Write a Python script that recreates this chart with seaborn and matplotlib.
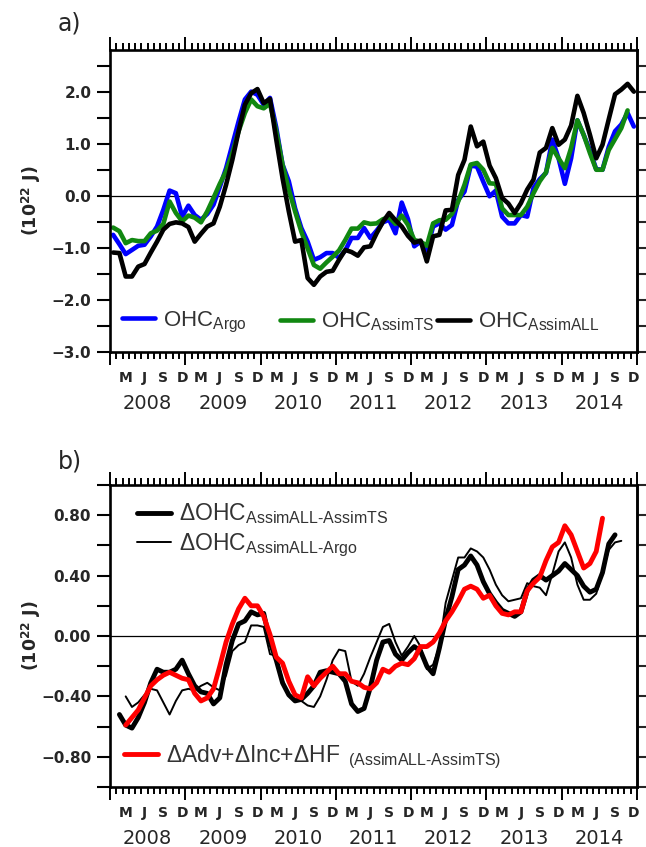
import numpy as np
import pandas as pd
import matplotlib
matplotlib.use("Agg")
import matplotlib.pyplot as plt
import seaborn as sns
from matplotlib.ticker import MultipleLocator, FuncFormatter, NullFormatter
from matplotlib.legend import Legend

# ---------------- data (monthly, Jan 2008 .. Dec 2014), units 1e22 J ----------------
start_year = 2008

ohc_argo = [-0.75, -0.93, -1.12, -1.04, -0.96, -0.94, -0.78, -0.59, -0.27, 0.10, 0.05, -0.40,
            -0.19, -0.37, -0.46, -0.35, -0.17, 0.17, 0.53, 0.98, 1.43, 1.85, 2.00, 1.94,
            1.75, 1.88, 1.31, 0.60, 0.28, -0.24, -0.62, -0.88, -1.23, -1.18, -1.10, -1.10,
            -1.19, -1.05, -0.81, -0.81, -0.62, -0.81, -0.67, -0.51, -0.46, -0.72, -0.13, -0.45,
            -0.97, -0.88, -1.05, -0.59, -0.53, -0.65, -0.56, -0.08, 0.08, 0.58, 0.56, 0.27,
            -0.01, 0.10, -0.40, -0.53, -0.53, -0.37, -0.40, 0.15, 0.32, 0.44, 1.08, 0.72,
            0.23, 0.72, 1.45, 1.17, 0.87, 0.51, 0.50, 0.94, 1.24, 1.37, 1.59, 1.33]

ohc_assimts = [-0.61, -0.68, -0.91, -0.85, -0.87, -0.87, -0.72, -0.67, -0.54, -0.11, -0.33, -0.49,
               -0.38, -0.42, -0.51, -0.30, -0.04, 0.23, 0.47, 0.82, 1.24, 1.59, 1.85, 1.72,
               1.68, 1.77, 1.24, 0.60, 0.12, -0.30, -0.69, -1.01, -1.33, -1.40, -1.28, -1.17,
               -1.05, -0.85, -0.63, -0.63, -0.51, -0.54, -0.53, -0.45, -0.41, -0.54, -0.38, -0.56,
               -0.85, -0.88, -0.96, -0.53, -0.47, -0.46, -0.35, -0.11, 0.21, 0.60, 0.63, 0.50,
               0.24, 0.23, -0.24, -0.37, -0.37, -0.37, -0.21, 0.05, 0.28, 0.45, 0.92, 0.72,
               0.53, 0.92, 1.45, 1.17, 0.82, 0.50, 0.50, 0.88, 1.09, 1.30, 1.64]

ohc_assimall = [-1.09, -1.10, -1.55, -1.55, -1.36, -1.31, -1.09, -0.88, -0.65, -0.54, -0.51, -0.53,
                -0.60, -0.88, -0.73, -0.59, -0.53, -0.21, 0.21, 0.69, 1.24, 1.75, 1.97, 2.05,
                1.78, 1.86, 1.08, 0.34, -0.30, -0.88, -0.85, -1.58, -1.71, -1.55, -1.46, -1.44,
                -1.23, -1.04, -1.08, -1.15, -0.99, -0.97, -0.72, -0.50, -0.33, -0.47, -0.59, -0.77,
                -0.90, -0.86, -1.26, -0.78, -0.75, -0.28, -0.27, 0.40, 0.69, 1.33, 0.95, 1.04,
                0.58, 0.34, -0.04, -0.15, -0.33, -0.14, 0.12, 0.31, 0.83, 0.92, 1.30, 0.98,
                1.08, 1.35, 1.92, 1.59, 1.17, 0.72, 0.98, 1.47, 1.95, 2.04, 2.15, 2.00]

# panel b: differences (first month index given separately)
d_all_ts_start = 1
d_all_ts = [-0.52, -0.59, -0.61, -0.54, -0.44, -0.31, -0.22, -0.24, -0.24, -0.22,
            -0.16, -0.25, -0.33, -0.37, -0.38, -0.45, -0.41, -0.19, -0.03, 0.08,
            0.10, 0.16, 0.14, 0.15, -0.04, -0.16, -0.31, -0.39, -0.43, -0.42,
            -0.38, -0.33, -0.24, -0.23, -0.24, -0.25, -0.30, -0.45, -0.50, -0.48,
            -0.34, -0.16, -0.04, -0.03, -0.12, -0.16, -0.11, -0.07, -0.10, -0.20,
            -0.25, -0.08, 0.11, 0.26, 0.44, 0.47, 0.53, 0.47, 0.36, 0.28,
            0.22, 0.17, 0.15, 0.13, 0.16, 0.30, 0.37, 0.40, 0.37, 0.40,
            0.43, 0.48, 0.44, 0.40, 0.33, 0.29, 0.31, 0.42, 0.61, 0.67]

d_all_argo_start = 2
d_all_argo = [-0.40, -0.47, -0.44, -0.39, -0.35, -0.36, -0.44, -0.52, -0.43, -0.36,
              -0.35, -0.36, -0.33, -0.31, -0.34, -0.36, -0.26, -0.10, -0.06, -0.04,
              0.07, 0.07, 0.06, -0.12, -0.13, -0.29, -0.39, -0.42, -0.43, -0.46,
              -0.47, -0.40, -0.29, -0.16, -0.09, -0.10, -0.30, -0.33, -0.25, -0.14,
              -0.04, 0.06, 0.08, -0.04, -0.13, -0.07, 0.00, -0.07, -0.22, -0.19,
              -0.07, 0.22, 0.37, 0.52, 0.52, 0.58, 0.56, 0.52, 0.44, 0.34,
              0.27, 0.23, 0.24, 0.25, 0.35, 0.33, 0.32, 0.27, 0.41, 0.56,
              0.62, 0.52, 0.34, 0.24, 0.24, 0.28, 0.42, 0.57, 0.62, 0.63]

d_budget_start = 2
d_budget = [-0.59, -0.54, -0.49, -0.41, -0.33, -0.29, -0.26, -0.24, -0.26, -0.28,
            -0.29, -0.38, -0.43, -0.41, -0.35, -0.20, -0.04, 0.08, 0.18, 0.25,
            0.20, 0.20, 0.13, 0.01, -0.14, -0.18, -0.30, -0.39, -0.41, -0.27,
            -0.33, -0.28, -0.24, -0.20, -0.25, -0.25, -0.30, -0.31, -0.34, -0.35,
            -0.31, -0.22, -0.24, -0.20, -0.18, -0.19, -0.15, -0.07, -0.07, -0.04,
            0.02, 0.10, 0.16, 0.23, 0.31, 0.33, 0.31, 0.25, 0.27, 0.20,
            0.15, 0.14, 0.16, 0.16, 0.30, 0.35, 0.39, 0.50, 0.59, 0.62,
            0.73, 0.67, 0.56, 0.45, 0.48, 0.56, 0.78]

month_letters = ["M", "J", "S", "D"]
month_label_idx = [2, 5, 8, 11]          # Mar, Jun, Sep, Dec
years = list(range(2008, 2015))

lab_argo = "OHC$_{\\mathrm{Argo}}$"
lab_ts = "OHC$_{\\mathrm{AssimTS}}$"
lab_all = "OHC$_{\\mathrm{AssimALL}}$"
lab_d_ts = "\u0394OHC$_{\\mathrm{AssimALL\u2010AssimTS}}$"
lab_d_argo = "\u0394OHC$_{\\mathrm{AssimALL\u2010Argo}}$"
lab_budget = "\u0394Adv+\u0394Inc+\u0394HF$_{\\mathrm{\\ \\ (AssimALL\u2010AssimTS)}}$"
ylabel_text = "(10$^{\\mathbf{22}}$ J)"


def month_x(start, n):
    k = np.arange(start, start + n)
    return start_year + (k + 0.5) / 12.0


# ---------------- style ----------------
sns.set_style("ticks")
plt.rcParams["font.family"] = ["DejaVu Sans"]
plt.rcParams["mathtext.fontset"] = "custom"
plt.rcParams["mathtext.rm"] = "Liberation Sans"
plt.rcParams["mathtext.it"] = "Liberation Sans:italic"
plt.rcParams["mathtext.bf"] = "DejaVu Sans:bold"

W, H = 646, 847
fig = plt.figure(figsize=(W / 100, H / 100), dpi=100)
ax_a = fig.add_axes([110 / W, 1 - 352 / H, 527 / W, 302 / H])
ax_b = fig.add_axes([110 / W, 1 - 787 / H, 527 / W, 302 / H])

TXT = "#333333"


def style_axes(ax, ylim, major, minor, fmt):
    ax.set_xlim(2008, 2015)
    ax.set_ylim(*ylim)
    for s in ax.spines.values():
        s.set_linewidth(1.9)
        s.set_color("black")
        s.set_visible(True)
    ax.xaxis.set_major_locator(MultipleLocator(1))
    ax.xaxis.set_minor_locator(MultipleLocator(1 / 12))
    ax.xaxis.set_major_formatter(NullFormatter())
    ax.tick_params(axis="x", which="both", direction="out", top=True, bottom=True,
                   labelbottom=False, labeltop=False, width=1.4, color="black")
    ax.tick_params(axis="x", which="major", length=9.5)
    ax.tick_params(axis="x", which="minor", length=5.3)

    ax.yaxis.set_major_locator(MultipleLocator(major))
    ax.yaxis.set_minor_locator(MultipleLocator(minor))
    ax.yaxis.set_major_formatter(FuncFormatter(
        lambda v, _: (fmt % (0.0 if abs(v) < 1e-9 else v)).replace("-", "\u2212")))
    ax.tick_params(axis="y", which="both", direction="out", left=True, right=False,
                   length=9.5, width=1.5, pad=4, labelsize=11, color="black")
    for t in ax.get_yticklabels():
        t.set_fontweight("bold")

    # right-hand ticks (shorter, no labels)
    sec_r = ax.secondary_yaxis("right")
    sec_r.yaxis.set_major_locator(MultipleLocator(major))
    sec_r.yaxis.set_minor_locator(MultipleLocator(minor))
    sec_r.tick_params(axis="y", which="both", direction="out", length=6.5, width=1.5,
                      labelright=False)
    sec_r.spines["right"].set_linewidth(1.9)

    # month letter labels
    sec_m = ax.secondary_xaxis("bottom")
    pos, labs = [], []
    for y in years:
        for m, l in zip(month_label_idx, month_letters):
            pos.append(y + (m + 0.5) / 12)
            labs.append(l)
    sec_m.set_xticks(pos)
    sec_m.set_xticklabels(labs, fontsize=10, fontweight="bold")
    sec_m.tick_params(axis="x", length=0, pad=14)
    sec_m.spines["bottom"].set_visible(False)

    # year labels
    sec_y = ax.secondary_xaxis("bottom")
    sec_y.set_xticks([y + 0.5 for y in years])
    sec_y.set_xticklabels([str(y) for y in years], fontsize=14)
    sec_y.tick_params(axis="x", length=0, pad=30)
    sec_y.spines["bottom"].set_visible(False)

    ax.set_ylabel(ylabel_text, fontsize=12.5, fontweight="bold")
    ax.yaxis.set_label_coords(-0.127, 0.5)
    ax.axhline(0, color="black", lw=0.9, zorder=1)


def add_leg(ax, line, label, fx, fy, size):
    lg = Legend(ax, [line], [label], loc="center left", bbox_to_anchor=(fx, fy),
                bbox_transform=ax.transAxes, frameon=False, borderpad=0, borderaxespad=0,
                handlelength=1.5, handletextpad=0.33,
                prop={"family": "Liberation Sans", "size": size})
    for t in lg.get_texts():
        t.set_color(TXT)
    ax.add_artist(lg)


# ---------------- panel a ----------------
df_a = pd.DataFrame({"x": month_x(0, len(ohc_argo)), "v": ohc_argo})
sns.lineplot(data=df_a, x="x", y="v", ax=ax_a, color="#0000ff", linewidth=3.3, errorbar=None)
l_argo = ax_a.lines[-1]
df_t = pd.DataFrame({"x": month_x(0, len(ohc_assimts)), "v": ohc_assimts})
sns.lineplot(data=df_t, x="x", y="v", ax=ax_a, color="#118811", linewidth=3.3, errorbar=None)
l_ts = ax_a.lines[-1]
df_l = pd.DataFrame({"x": month_x(0, len(ohc_assimall)), "v": ohc_assimall})
sns.lineplot(data=df_l, x="x", y="v", ax=ax_a, color="black", linewidth=3.3, errorbar=None)
l_all = ax_a.lines[-1]
style_axes(ax_a, (-3.0, 2.8), 1.0, 0.5, "%.1f")
ax_a.set_xlabel("")

add_leg(ax_a, l_argo, lab_argo, 0.0228, 0.099, 16)
add_leg(ax_a, l_ts, lab_ts, 0.3226, 0.099, 16)
add_leg(ax_a, l_all, lab_all, 0.6205, 0.099, 16)

# ---------------- panel b ----------------
df_b2 = pd.DataFrame({"x": month_x(d_all_argo_start, len(d_all_argo)), "v": d_all_argo})
sns.lineplot(data=df_b2, x="x", y="v", ax=ax_b, color="black", linewidth=1.4, errorbar=None)
l_d_argo = ax_b.lines[-1]
df_b1 = pd.DataFrame({"x": month_x(d_all_ts_start, len(d_all_ts)), "v": d_all_ts})
sns.lineplot(data=df_b1, x="x", y="v", ax=ax_b, color="black", linewidth=3.5, errorbar=None)
l_d_ts = ax_b.lines[-1]
df_b3 = pd.DataFrame({"x": month_x(d_budget_start, len(d_budget)), "v": d_budget})
sns.lineplot(data=df_b3, x="x", y="v", ax=ax_b, color="#ff0000", linewidth=3.5, errorbar=None)
l_budget = ax_b.lines[-1]
style_axes(ax_b, (-1.0, 1.0), 0.4, 0.2, "%.2f")
ax_b.set_xlabel("")

add_leg(ax_b, l_d_ts, lab_d_ts, 0.0512, 0.904, 16.5)
add_leg(ax_b, l_d_argo, lab_d_argo, 0.0512, 0.801, 16.5)
add_leg(ax_b, l_budget, lab_budget, 0.0266, 0.099, 16.5)

fig.text(58 / W, 1 - 24 / H, "a)", fontsize=17, va="center", ha="left")
fig.text(58 / W, 1 - 462 / H, "b)", fontsize=17, va="center", ha="left")

fig.savefig("out.png", dpi=100)
